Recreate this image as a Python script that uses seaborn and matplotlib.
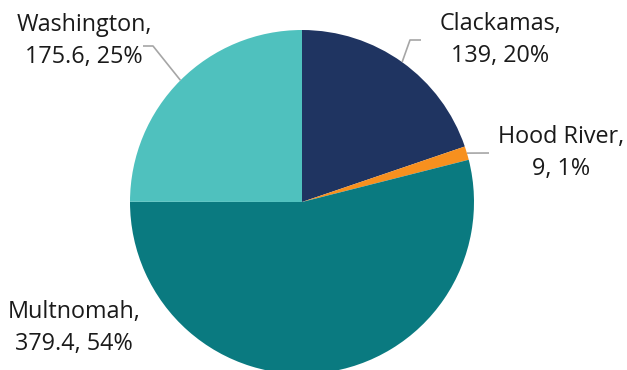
import numpy as np
import matplotlib
matplotlib.use("Agg")
import matplotlib.pyplot as plt
import seaborn as sns

counties = ["Clackamas", "Hood River", "Multnomah", "Washington"]
values = [139, 9, 379.4, 175.6]
percents = ["20%", "1%", "54%", "25%"]
colors = ["#1F3461", "#F7901E", "#0A7A80", "#4FC1BE"]

sns.set_theme(style="white")
plt.rcParams["font.family"] = ["Open Sans", "DejaVu Sans"]

W, H = 627, 370
fig = plt.figure(figsize=(W / 100, H / 100), dpi=100)
cx, cy, r = 302, 202, 172  # pie centre and radius in pixels
ax = fig.add_axes([(cx - r) / W, (H - cy - r) / H, 2 * r / W, 2 * r / H])

wedges, _ = ax.pie(values, colors=colors, startangle=90, counterclock=False,
                   radius=1, wedgeprops=dict(linewidth=0))
ax.set_xlim(-1, 1)
ax.set_ylim(-1, 1)
ax.set_autoscale_on(False)
ax.axis("off")
for w in wedges:
    w.set_clip_on(False)

def px(x, y):
    """pixel position -> data coordinates"""
    return (x - cx) / r, (cy - y) / r

# label centre and leader elbow points (pixels); None = no leader
layout = {
    "Clackamas": dict(text=(500, 40), path=[(410, 40), (421, 40)]),
    "Hood River": dict(text=(561, 153), path=[(489, 153)]),
    "Multnomah": dict(text=(74, 328), path=None),
    "Washington": dict(text=(84, 41), path=[(153, 46), (143, 46)]),
}

for w, name, val, pct in zip(wedges, counties, values, percents):
    mid = np.deg2rad((w.theta1 + w.theta2) / 2)
    ex, ey = np.cos(mid), np.sin(mid)
    spec = layout[name]
    if spec["path"]:
        pts = [(ex, ey)] + [px(*p) for p in spec["path"]]
        xs, ys = zip(*pts)
        ax.plot(xs, ys, color="#A6A6A6", lw=1.2, clip_on=False,
                solid_capstyle="butt")
    tx, ty = px(*spec["text"])
    num = f"{val:g}"
    ax.text(tx, ty, f"{name},\n{num}, {pct}", ha="center", va="center",
            multialignment="center", fontsize=16.8, color="#1A1A1A",
            linespacing=1.4, clip_on=False)

fig.savefig("out.png", dpi=100, facecolor="white")
